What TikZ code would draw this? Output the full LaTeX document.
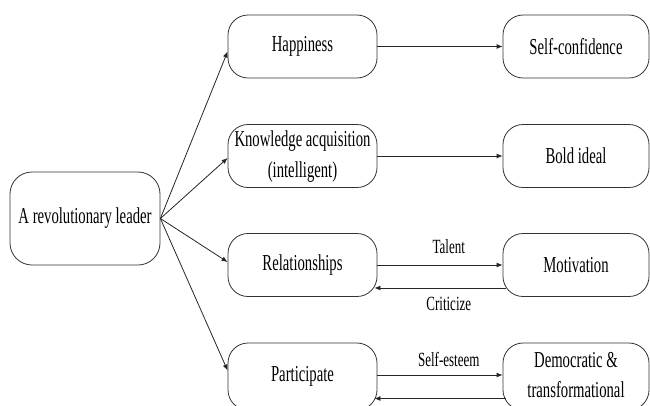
\documentclass[tikz,border=0pt]{standalone}
\usepackage{fontspec}
\setmainfont{Liberation Serif}
\usepackage{graphicx}
\usetikzlibrary{arrows.meta}
\newcommand{\tall}[1]{\scalebox{1}[1.55]{#1}}
\newcommand{\twolines}[2]{\tall{\begin{tabular}{@{}c@{}}#1\\#2\end{tabular}}}

\begin{document}
\begin{tikzpicture}[x=1pt,y=-1pt,>={Latex[length=6pt,width=5pt]},
	box/.style={draw=black!80, line width=0.8pt, rounded corners=20pt, minimum width=149pt, minimum height=63pt, inner sep=0pt, font=\fontsize{14.7}{19.4}\selectfont},
	link/.style={->, draw=black!85, line width=0.8pt},
	tag/.style={font=\fontsize{13}{15}\selectfont, pos=0.57}]
	\useasboundingbox (0,0) rectangle (650,405);
	% leader
	\node[box, minimum width=150pt, minimum height=93pt, rounded corners=22pt] (lead) at (85,218.5) {\tall{A revolutionary leader}};
	% middle column
	\node[box] (hap) at (302.5,46.5) {\tall{Happiness}};
	\node[box] (know) at (302.5,156) {\twolines{Knowledge acquisition}{(intelligent)}};
	\node[box] (rel) at (302.5,265) {\tall{Relationships}};
	\node[box, minimum height=67pt] (part) at (302.5,376.5) {\tall{Participate}};
	% right column
	\node[box, minimum width=146pt] (conf) at (576,46.5) {\tall{Self-confidence}};
	\node[box, minimum width=146pt] (bold) at (576,156) {\tall{Bold ideal}};
	\node[box, minimum width=146pt] (mot) at (576,265) {\tall{Motivation}};
	\node[box, minimum width=146pt, minimum height=67pt] (demo) at (576,376.5) {\twolines{Democratic \&}{transformational}};
	% fan out
	\draw[link] (lead.east) -- ([yshift=-5pt]hap.west);
	\draw[link] (lead.east) -- ([yshift=-2pt]know.west);
	\draw[link] (lead.east) -- ([yshift=3pt]rel.west);
	\draw[link] (lead.east) -- ([yshift=6pt]part.west);
	% across
	\draw[link] (hap.east) -- (conf.west);
	\draw[link] (know.east) -- (bold.west);
	\draw[link] (rel.east) -- node[tag, above=8pt] {\tall{Talent}} (mot.west);
	\draw[link, shorten >=-3pt, shorten <=-3pt] ([yshift=-23pt]mot.west) -- node[tag, below=5pt, pos=0.43] {\tall{Criticize}} ([yshift=-23pt]rel.east);
	\draw[link] ([yshift=1.5pt]part.east) -- node[tag, above=5pt] {\tall{Self-esteem}} ([yshift=1.5pt]demo.west);
	\draw[link, shorten >=-3pt, shorten <=-3pt] ([yshift=-22pt]demo.west) -- ([yshift=-22pt]part.east);
\end{tikzpicture}
\end{document}
